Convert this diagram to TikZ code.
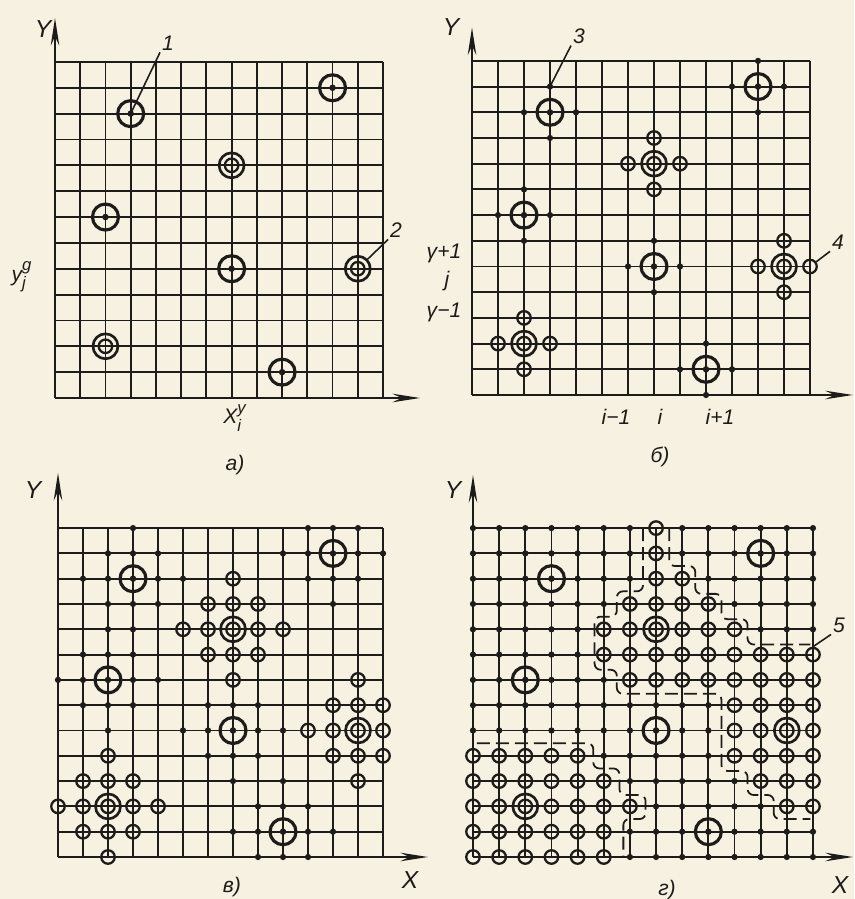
\documentclass[tikz,border=0pt]{standalone}
\usepackage{fontspec}
\setmainfont{Liberation Sans}
\usetikzlibrary{arrows.meta,positioning}
\definecolor{paper}{RGB}{246,241,224}
\definecolor{ink}{RGB}{30,28,26}

% 13 x 13 cells, both axes with arrows
\newcommand{\panelgrid}[3]{%
  \foreach \k in {0,...,13}{\draw[gridline] (\k,0) -- (\k,13); \draw[gridline] (0,\k) -- (13,\k);}
  \coordinate (#1-o) at (0,0);
  \coordinate (#1-x) at (#2,0);
  \coordinate (#1-y) at (0,#3);
  \draw[axis] (#1-o) -- (#1-x);
  \draw[axis] (#1-o) -- (#1-y);
}
% marks within distance #2 of the sources
\newcommand{\gridspots}[2]{%
  \foreach \i in {0,...,13}{%
    \foreach \j in {0,...,13}{%
      \pgfmathtruncatemacro\ds{dsingle(\i,\j)}%
      \pgfmathtruncatemacro\dd{ddouble(\i,\j)}%
      \ifnum\dd=0 \node[dblring] (#1-\i-\j) at (\i,\j) {};%
      \else\ifnum\ds=0 \node[bigring] (#1-\i-\j) at (\i,\j) {};%
      \else\ifnum\dd>#2 \ifnum\ds>#2 \else\node[gdot] (#1-\i-\j) at (\i,\j) {};\fi
      \else\node[ring] (#1-\i-\j) at (\i,\j) {};%
      \fi\fi\fi
    }%
  }%
}
\newcommand{\scr}[1]{\mbox{\fontsize{9.5}{10}\selectfont\itshape #1}}

\begin{document}
\begin{tikzpicture}[
  x=0.2mm, y=0.2mm, color=ink,
  declare function={
    dsingle(\a,\b)=min(abs(\a-3)+abs(\b-11),abs(\a-11)+abs(\b-12),abs(\a-2)+abs(\b-7),abs(\a-7)+abs(\b-5),abs(\a-9)+abs(\b-1));
    ddouble(\a,\b)=min(abs(\a-7)+abs(\b-9),abs(\a-12)+abs(\b-5),abs(\a-2)+abs(\b-2));
  },
  gridline/.style={line width=1.05pt},
  axis/.style={line width=1.4pt, -{Stealth[length=5.5mm,width=1.7mm]}},
  gdot/.style={circle, fill, inner sep=0pt, minimum size=1.25mm},
  ring/.style={circle, draw, line width=1.3pt, inner sep=0pt, minimum size=2.7mm},
  bigring/.style={circle, draw, line width=1.8pt, inner sep=0pt, minimum size=5.2mm,
    path picture={\fill (path picture bounding box.center) circle (0.65mm);}},
  dblring/.style={circle, draw, line width=1.5pt, inner sep=0pt, minimum size=5mm,
    path picture={\draw[line width=1.3pt] (path picture bounding box.center) circle (1.35mm);}},
  zone/.style={line width=1pt, dash pattern=on 2.6mm off 1.2mm, rounded corners=1.2mm},
  leader/.style={line width=0.9pt},
  lbl/.style={font=\fontsize{12}{14}\selectfont\itshape, inner sep=1pt},
  axlbl/.style={font=\fontsize{14}{16}\selectfont\itshape, inner sep=1pt}
]
\fill[paper] (0,0) rectangle (854,899);
\useasboundingbox (0,0) rectangle (854,899);

% a) sources only
\begin{scope}[shift={(55,501)}, x=5.046mm, y=5.17mm]
  \panelgrid{a}{14.47}{14.7}
  \gridspots{a}{0}
\end{scope}
\node[axlbl] (ya) at (43,870) {Y};
\node[lbl] (lab1) at (168,856) {1};
\node[lbl] (lab2) at (396,669) {2};
\draw[leader] (lab1.south west) -- (a-3-11.center);
\draw[leader] (lab2.south west) -- (a-12-5);
\node[lbl] (yjg) at (22,622) {y$^{\scr{g}}_{\scr{j}}$};
\node[lbl] (xiy) at (235,481) {X$^{\scr{y}}_{\scr{i}}$};
\node[lbl] (capa) at (235,434) {а)};

% b) first neighbours
\begin{scope}[shift={(472,504)}, x=5.2mm, y=5.14mm]
  \panelgrid{b}{14.65}{14.3}
  \gridspots{b}{1}
\end{scope}
\node[axlbl] (yb) at (451,872) {Y};
\node[lbl] (lab3) at (579,863) {3};
\node[lbl] (lab4) at (838,657) {4};
\draw[leader] (lab3.south west) -- (b-3-12.center);
\draw[leader] (lab4.south west) -- (b-13-5);
\node[lbl] (jp) at (444,646) {γ+1};
\node[lbl] (jj) at (447,618) {j};
\node[lbl] (jm) at (444,587) {γ−1};
\node[lbl] (im) at (616,482) {i−1};
\node[lbl] (ii) at (660,482) {i};
\node[lbl] (ip) at (720,482) {i+1};
\node[lbl] (capb) at (660,442) {б)};

% c) second neighbours
\begin{scope}[shift={(58,42)}, x=5.0mm, y=5.06mm]
  \panelgrid{c}{14.8}{15.18}
  \gridspots{c}{2}
\end{scope}
\node[axlbl] (yc) at (33,409) {Y};
\node[axlbl] (xc) at (410,19) {X};
\node[lbl] (capc) at (232,12) {в)};

% d) whole field with zones
\begin{scope}[shift={(473,42)}, x=5.23mm, y=5.06mm]
  \panelgrid{d}{14.53}{15.1}
  \draw[zone] (6.5,13) -- (6.5,10.5) -- (5.5,10.5) -- (5.5,9.5) -- (4.65,9.5) -- (4.65,7.4)
    -- (5.5,7.4) -- (5.5,6.45) -- (9.5,6.45) -- (9.5,3.4) -- (10.5,3.4) -- (10.5,2.45)
    -- (11.5,2.45) -- (11.5,1.5) -- (12.9,1.5);
  \draw[zone] (7.5,13) -- (7.5,11.5) -- (8.5,11.5) -- (8.5,10.4) -- (9.5,10.4) -- (9.5,9.4)
    -- (10.5,9.4) -- (10.5,8.4) -- (12.9,8.4);
  \draw[zone] (0.15,4.5) -- (4.6,4.5) -- (4.6,3.5) -- (5.6,3.5) -- (5.6,2.45) -- (6.6,2.45)
    -- (6.6,1.5) -- (5.75,1.5) -- (5.75,0);
  \foreach \i in {0,...,13}{
    \foreach \j in {0,...,13}{
      \pgfmathtruncatemacro\ds{dsingle(\i,\j)}
      \pgfmathtruncatemacro\dd{ddouble(\i,\j)}
      \pgfmathtruncatemacro\lo{{99,99,12,11,10,10,10,6,5,5,6,7,7,7}[\j]}
      \pgfmathtruncatemacro\hi{{-1,-1,13,13,13,13,13,13,13,10,9,8,7,7}[\j]}
      \pgfmathtruncatemacro\bl{{5,5,6,5,4,-1,-1,-1,-1,-1,-1,-1,-1,-1}[\j]}
      \pgfmathtruncatemacro\inz{or(and(\i>=\lo,\i<=\hi),\i<=\bl)}
      \ifnum\dd=0 \node[dblring] (d-\i-\j) at (\i,\j) {};
      \else\ifnum\ds=0 \node[bigring] (d-\i-\j) at (\i,\j) {};
      \else\ifnum\inz=1 \node[ring] (d-\i-\j) at (\i,\j) {};
      \else \node[gdot] (d-\i-\j) at (\i,\j) {};
      \fi\fi\fi
    }
  }
\end{scope}
\node[axlbl] (yd) at (453,409) {Y};
\node[axlbl] (xd) at (840,14) {X};
\node[lbl] (capd) at (667,9) {г)};
\node[lbl] (lab5) at (839,274) {5};
\draw[leader] (lab5.south west) -- (d-13-8.north);
\end{tikzpicture}
\end{document}
